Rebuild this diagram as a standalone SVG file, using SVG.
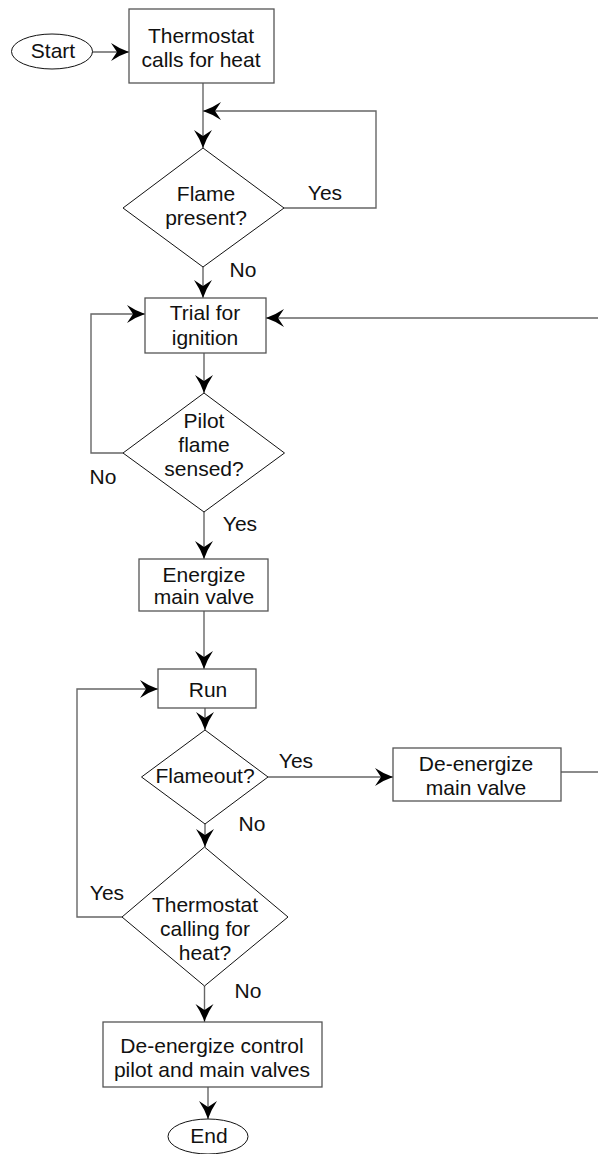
<svg xmlns="http://www.w3.org/2000/svg" width="598" height="1154" viewBox="0 0 598 1154">
<style>
text{font-family:"Liberation Sans",Arial,sans-serif;font-size:21px;fill:#111;text-anchor:middle}
.box{fill:#fff;stroke:#555;stroke-width:1.3}
.dia{fill:#fff;stroke:#111;stroke-width:1}
.term{fill:#fff;stroke:#111;stroke-width:1}
.con{fill:none;stroke:#666;stroke-width:1.4;marker-end:url(#arr)}
</style>
<defs>
<marker id="arr" markerUnits="userSpaceOnUse" viewBox="-20 -10 21 20" markerWidth="21" markerHeight="20" refX="0" refY="0" orient="auto">
<path d="M0,0 Q-9,-3 -18,-9 L-12,0 L-18,9 Q-9,3 0,0 Z" fill="#000"/>
</marker>
</defs>
<rect width="598" height="1154" fill="#fff"/>
<g id="connectors">
<path class="con" d="M92,52 H129"/>
<path class="con" d="M203,83 V148"/>
<path class="con" d="M284,208 H376 V111 H203"/>
<path class="con" d="M203,267 V298"/>
<path class="con" d="M204,353 V393"/>
<path class="con" d="M123,453 H91 V314 H145"/>
<path class="con" d="M204,512 V559"/>
<path class="con" d="M204,611 V669"/>
<path class="con" d="M205,708 V730"/>
<path class="con" d="M268,777 H393"/>
<path class="con" d="M561,772 H600 V318 H266"/>
<path class="con" d="M205,824 V847"/>
<path class="con" d="M122,917 H77 V689 H158"/>
<path class="con" d="M204.5,986 V1022"/>
<path class="con" d="M208,1087 V1119"/>
<text x="325" y="200">Yes</text>
<text x="243" y="277">No</text>
<text x="103" y="484">No</text>
<text x="240" y="531">Yes</text>
<text x="296" y="768">Yes</text>
<text x="252" y="831">No</text>
<text x="107" y="900">Yes</text>
<text x="248" y="998">No</text>
</g>
<g id="start">
<ellipse class="term" cx="52" cy="51.5" rx="40.5" ry="17.5"/>
<text x="53" y="57.5">Start</text>
</g>
<g id="thermostat-calls">
<rect class="box" x="129" y="9" width="145" height="74"/>
<text x="201" y="43">Thermostat</text>
<text x="201" y="67">calls for heat</text>
</g>
<g id="flame-present">
<polygon class="dia" points="203,148 284,208 203,267 123,208"/>
<text x="206" y="201">Flame</text>
<text x="206" y="225">present?</text>
</g>
<g id="trial">
<rect class="box" x="145" y="298" width="121" height="55"/>
<text x="205" y="320">Trial for</text>
<text x="205" y="345">ignition</text>
</g>
<g id="pilot-sensed">
<polygon class="dia" points="204,393 284.5,453 204,512 123,453"/>
<text x="204" y="428">Pilot</text>
<text x="204" y="452">flame</text>
<text x="204" y="476">sensed?</text>
</g>
<g id="energize">
<rect class="box" x="139" y="559" width="129" height="52"/>
<text x="204" y="582">Energize</text>
<text x="204" y="604">main valve</text>
</g>
<g id="run">
<rect class="box" x="158" y="669" width="98" height="39"/>
<text x="208" y="697">Run</text>
</g>
<g id="flameout">
<polygon class="dia" points="205,730 268,777 205,824 141.5,777"/>
<text x="205" y="783">Flameout?</text>
</g>
<g id="deenergize-main">
<rect class="box" x="393" y="748" width="168" height="53"/>
<text x="476" y="771">De-energize</text>
<text x="476" y="795">main valve</text>
</g>
<g id="thermostat-calling">
<polygon class="dia" points="204.5,847 288,917 204.5,986 122,917"/>
<text x="205" y="912">Thermostat</text>
<text x="205" y="936">calling for</text>
<text x="205" y="960">heat?</text>
</g>
<g id="deenergize-all">
<rect class="box" x="103" y="1022" width="219" height="65"/>
<text x="212" y="1053">De-energize control</text>
<text x="212" y="1077">pilot and main valves</text>
</g>
<g id="end">
<ellipse class="term" cx="208" cy="1136.5" rx="40" ry="17.5"/>
<text x="209" y="1143">End</text>
</g>
</svg>
